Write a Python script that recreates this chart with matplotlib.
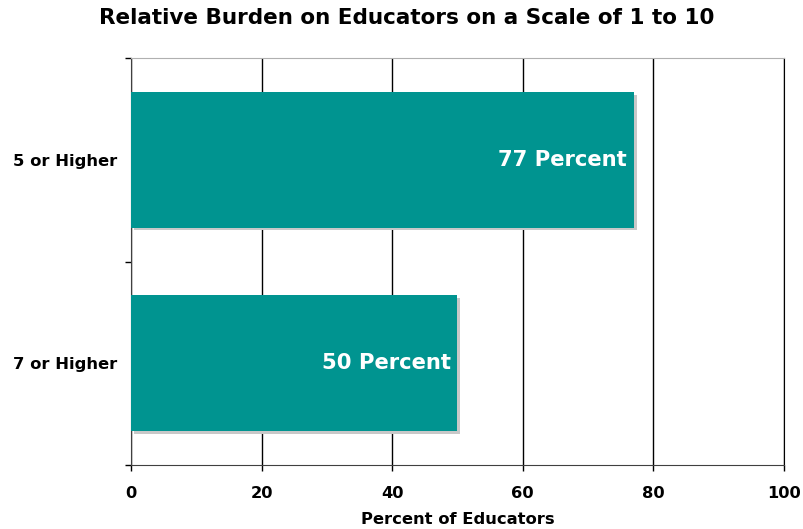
import matplotlib
matplotlib.use("Agg")
import matplotlib.pyplot as plt
import matplotlib.patheffects as pe

# Daten
categories = ["5 or Higher", "7 or Higher"]
values = [77, 50]
bar_labels = ["77 Percent", "50 Percent"]
xticks = [0, 20, 40, 60, 80, 100]

teal = "#009490"

fig = plt.figure(figsize=(8.04, 5.29), dpi=100)
ax = fig.add_axes([131/804, 1-465/529, (784-131)/804, (465-58)/529])

pos = list(range(len(categories)))
bars = ax.barh(pos, values, height=0.667, color=teal, zorder=3)
for b in bars:
    b.set_path_effects([pe.SimplePatchShadow(offset=(2, -2), shadow_rgbFace="#c8c8c8", alpha=1),
                        pe.Normal()])

for p, v, lab in zip(pos, values, bar_labels):
    ax.annotate(lab, xy=(v, p), xytext=(-5, 0), textcoords="offset points",
                ha="right", va="center", color="white", fontsize=15.2, fontweight="bold", zorder=4)

ax.set_xlim(0, 100)
ax.set_ylim(1.5, -0.5)
ax.set_xticks(xticks)
ax.set_xticklabels([str(t) for t in xticks], fontsize=11.7, fontweight="bold")
ax.tick_params(axis="x", length=4, width=1, pad=11)
ax.xaxis.grid(True, color="black", linewidth=1, zorder=0)
ax.set_axisbelow(True)

ax.set_yticks(pos)
ax.set_yticklabels(categories, fontsize=11.8, fontweight="bold")
ax.tick_params(axis="y", which="major", length=0, pad=10)
ax.set_yticks([-0.5, 0.5, 1.5], minor=True)
ax.tick_params(axis="y", which="minor", length=4, width=1)

ax.spines["top"].set_color("#b0b0b0")
ax.spines["right"].set_color("black")
ax.spines["left"].set_color("#404040")
ax.spines["bottom"].set_color("#404040")

ax.set_xlabel("Percent of Educators", fontsize=11.8, fontweight="bold", labelpad=8)
fig.suptitle("Relative Burden on Educators on a Scale of 1 to 10", fontsize=15.5,
             fontweight="bold", x=407/804, y=0.985, va="top")

fig.savefig("out.png", dpi=100)
